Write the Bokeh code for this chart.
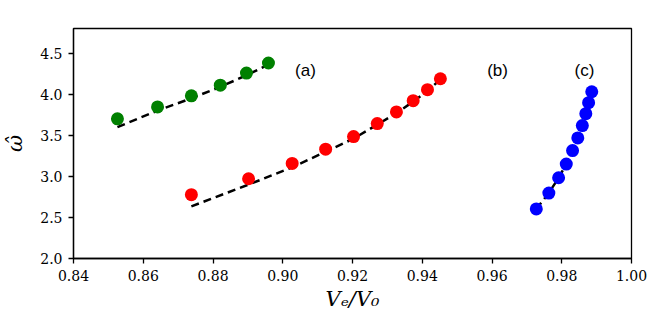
from bokeh.plotting import figure
from bokeh.models import FixedTicker, CustomJSTickFormatter, Range1d, Label
from bokeh.embed import file_html
from bokeh.resources import INLINE

# Data
green_x = [0.8526, 0.8641, 0.8738, 0.8821, 0.8896, 0.8959]
green_y = [3.70, 3.845, 3.98, 4.11, 4.257, 4.38]
green_fit = [3.60, 3.80, 3.95, 4.09, 4.23, 4.36]

red_x = [0.8738, 0.8902, 0.9027, 0.9123, 0.9203, 0.9271, 0.9326, 0.9374, 0.9415, 0.9452]
red_y = [2.777, 2.971, 3.157, 3.331, 3.484, 3.642, 3.784, 3.921, 4.055, 4.188]
red_fit = [2.635, 2.90, 3.11, 3.30, 3.46, 3.63, 3.77, 3.91, 4.04, 4.18]

blue_x = [0.9727, 0.9763, 0.9791, 0.9813, 0.9831, 0.9846, 0.9859, 0.9869, 0.9877, 0.9886]
blue_y = [2.603, 2.797, 2.983, 3.149, 3.314, 3.468, 3.618, 3.763, 3.897, 4.030]
blue_fit = [2.60, 2.80, 2.98, 3.15, 3.31, 3.47, 3.62, 3.76, 3.90, 4.03]

x_ticks = [0.84, 0.86, 0.88, 0.90, 0.92, 0.94, 0.96, 0.98, 1.00]
y_ticks = [2.0, 2.5, 3.0, 3.5, 4.0, 4.5]

panel_labels = ["(a)", "(b)", "(c)"]
panel_x = [0.9065, 0.9616, 0.9865]
panel_y = 4.29

p = figure(width=656, height=313, output_backend="svg", toolbar_location=None,
           x_range=Range1d(0.84, 1.00), y_range=Range1d(2.0, 4.8),
           min_border_left=72, min_border_right=25, min_border_top=28, min_border_bottom=54)
p.grid.visible = False
p.outline_line_color = "black"
p.outline_line_width = 1.3
p.background_fill_color = "white"
p.border_fill_color = "white"

for xs, ys, fit, col in [(green_x, green_y, green_fit, "#008000"),
                          (red_x, red_y, red_fit, "#ff0000"),
                          (blue_x, blue_y, blue_fit, "#0000ff")]:
    p.line(xs, fit, line_color="black", line_width=2.5, line_dash="8 5")
    p.scatter(xs, ys, size=13, fill_color=col, line_color=col, line_width=0)

for lab, lx in zip(panel_labels, panel_x):
    p.add_layout(Label(x=lx, y=panel_y, text=lab, text_font="Liberation Sans",
                       text_font_size="17px", text_align="center", text_baseline="middle",
                       text_color="black"))

p.xaxis.ticker = FixedTicker(ticks=x_ticks)
p.yaxis.ticker = FixedTicker(ticks=y_ticks)
p.xaxis.formatter = CustomJSTickFormatter(code="return tick.toFixed(2);")
p.yaxis.formatter = CustomJSTickFormatter(code="return tick.toFixed(1);")
for ax in (p.xaxis, p.yaxis):
    ax.major_label_text_font = "DejaVu Serif"
    ax.major_label_text_font_size = "14px"
    ax.major_label_text_color = "black"
    ax.minor_tick_line_color = None
    ax.major_tick_out = 5
    ax.major_tick_in = 0
    ax.major_tick_line_width = 1.3
    ax.axis_line_width = 1.3
    ax.axis_label_text_font = "DejaVu Serif"
    ax.axis_label_text_font_style = "italic"
    ax.axis_label_text_color = "black"

p.xaxis.major_label_standoff = 6
p.yaxis.major_label_standoff = 6
p.xaxis.axis_label = "Vₑ/V₀"
p.xaxis.axis_label_text_font_size = "21px"
p.xaxis.axis_label_standoff = 3
p.yaxis.axis_label = "ω̂"
p.yaxis.axis_label_text_font_size = "21px"
p.yaxis.axis_label_standoff = 10

open("out.html", "w").write(file_html(p, INLINE))
